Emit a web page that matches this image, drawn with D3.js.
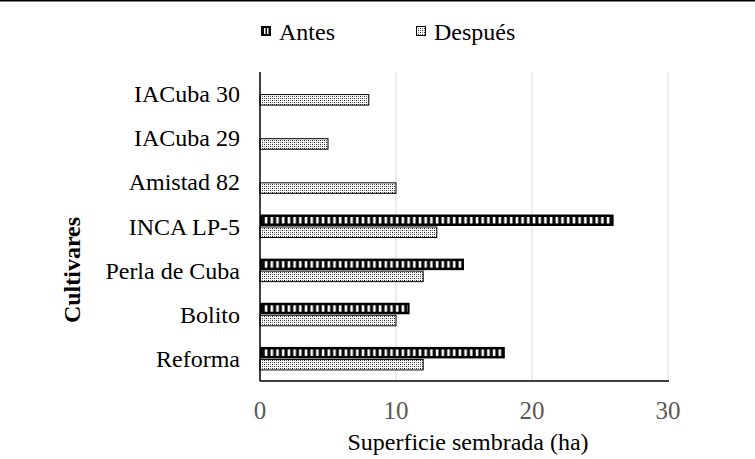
<!DOCTYPE html>
<html><head><meta charset="utf-8">
<script src="https://cdn.jsdelivr.net/npm/d3@7"></script>
<style>body{margin:0;background:#fff}svg{display:block}text{font-family:"Liberation Serif","Times New Roman",serif}</style>
</head><body>
<script>
const categories = ["IACuba 30","IACuba 29","Amistad 82","INCA LP-5","Perla de Cuba","Bolito","Reforma"];
const antes = [0,0,0,26,15,11,18];
const despues = [8,5,10,13,12,10,12];
const seriesNames = ["Antes","Después"];
const xTicks = [0,10,20,30];

const W=755,H=459;
const svg=d3.select("body").append("svg").attr("width",W).attr("height",H);
const defs=svg.append("defs");
// stripes pattern
const ps=defs.append("pattern").attr("id","stripes").attr("patternUnits","userSpaceOnUse").attr("width",5.7).attr("height",10);
ps.append("rect").attr("x",0).attr("y",0).attr("width",5.7).attr("height",10).attr("fill","#000");
ps.append("rect").attr("x",2.6).attr("y",0).attr("width",2.6).attr("height",10).attr("fill","#fff");
// dots pattern
const pd=defs.append("pattern").attr("id","dots").attr("patternUnits","userSpaceOnUse").attr("width",4).attr("height",4);
pd.append("rect").attr("width",4).attr("height",4).attr("fill","#fff");
pd.append("rect").attr("x",0).attr("y",0).attr("width",1).attr("height",1).attr("fill","#222");
pd.append("rect").attr("x",2).attr("y",2).attr("width",1).attr("height",1).attr("fill","#222");
pd.append("rect").attr("x",0).attr("y",2).attr("width",1).attr("height",1).attr("fill","#777");
pd.append("rect").attr("x",2).attr("y",0).attr("width",1).attr("height",1).attr("fill","#777");

svg.append("line").attr("x1",0).attr("x2",W).attr("y1",0.75).attr("y2",0.75).attr("stroke","#000").attr("stroke-width",1.5);

const x=d3.scaleLinear().domain([0,30]).range([260,668]);
const y=d3.scaleBand().domain(categories).range([72,381]);
const bh=11.5;

// gridlines
svg.append("g").selectAll("line").data(xTicks.slice(1)).join("line")
 .attr("x1",d=>x(d)).attr("x2",d=>x(d)).attr("y1",72).attr("y2",381)
 .attr("stroke","#d9d9d9").attr("stroke-width",1);

const g=svg.append("g");
const cy=c=>y(c)+y.bandwidth()/2;
// Antes bars
categories.forEach((c,i)=>{
  const v=antes[i]; if(v<=0) return;
  const x0=x(0), x1=x(v), yt=cy(c)-bh-0.5;
  g.append("rect").attr("x",x0).attr("y",yt).attr("width",x1-x0).attr("height",bh).attr("fill","#000");
  g.append("rect").attr("x",x0+2).attr("y",yt+2.5).attr("width",x1-x0-4).attr("height",bh-5).attr("fill","url(#stripes)");
});
categories.forEach((c,i)=>{
  const v=despues[i]; if(v<=0) return;
  const x0=x(0), x1=x(v), yt=cy(c)+0.5;
  g.append("rect").attr("x",x0).attr("y",yt).attr("width",x1-x0).attr("height",bh-1).attr("fill","url(#dots)").attr("stroke","#000").attr("stroke-width",1);
});

// axes lines
svg.append("line").attr("x1",x(0)).attr("x2",x(0)).attr("y1",72).attr("y2",381).attr("stroke","#000").attr("stroke-width",1.5);
svg.append("line").attr("x1",x(0)).attr("x2",x(30)+1).attr("y1",381).attr("y2",381).attr("stroke","#000").attr("stroke-width",1.5);

// tick labels
svg.append("g").selectAll("text").data(xTicks).join("text")
 .attr("x",d=>x(d)).attr("y",419).attr("text-anchor","middle").attr("font-size",25).attr("fill","#595959").text(d=>d);
// category labels
svg.append("g").selectAll("text").data(categories).join("text")
 .attr("x",240).attr("y",c=>cy(c)+8).attr("text-anchor","end").attr("font-size",24).attr("fill","#000").text(c=>c);
// axis titles
svg.append("text").attr("x",468).attr("y",450).attr("text-anchor","middle").attr("font-size",24).text("Superficie sembrada (ha)");
svg.append("text").attr("transform","translate(80,270) rotate(-90)").attr("text-anchor","middle").attr("font-size",24).attr("font-weight","bold").text("Cultivares");

// legend
const lg=svg.append("g");
const lx=[261,416];
seriesNames.forEach((s,i)=>{
  const sx=lx[i], sy=26;
  if(i===0){
    lg.append("rect").attr("x",sx).attr("y",sy).attr("width",10).attr("height",10).attr("fill","#000");
    lg.append("rect").attr("x",sx+3).attr("y",sy+2).attr("width",1.5).attr("height",6).attr("fill","#fff");
    lg.append("rect").attr("x",sx+6).attr("y",sy+2).attr("width",1.5).attr("height",6).attr("fill","#fff");
  } else {
    lg.append("rect").attr("x",sx+0.5).attr("y",sy+0.5).attr("width",9).attr("height",9).attr("fill","url(#dots)").attr("stroke","#000").attr("stroke-width",1);
  }
  lg.append("text").attr("x",sx+18).attr("y",sy+14).attr("font-size",24).text(s);
});
</script>
</body></html>
